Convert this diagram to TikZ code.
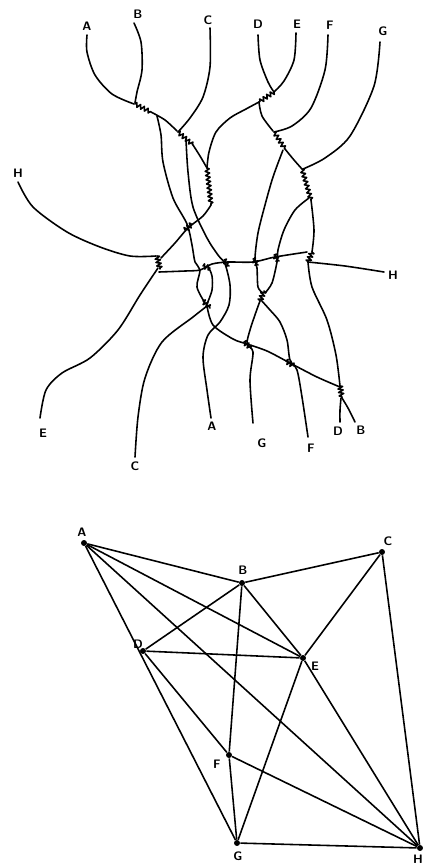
\documentclass[tikz,border=0pt]{standalone}
\usetikzlibrary{decorations.pathmorphing}
\tikzset{
  lab/.style={font=\sffamily\bfseries\fontsize{7}{7}\selectfont, inner sep=0pt},
  strand/.style={line width=0.9pt, line cap=round, line join=round},
  twist/.style={strand, decorate, decoration={zigzag, segment length=2.4pt, amplitude=1.2pt}},
  knot/.style={strand, decorate, decoration={zigzag, segment length=2pt, amplitude=1.4pt}},
  dot/.style={circle, fill, inner sep=0pt, minimum size=3.4pt},
  link/.style={line width=0.9pt}
}
\begin{document}
\begin{tikzpicture}[x=0.02cm, y=-0.02cm]
  \useasboundingbox (0,0) rectangle (425,867);
  \clip (0,0) rectangle (425,867);

  \node[lab] (tA) at (87,26) {A};
  \node[lab] (tB) at (138,14) {B};
  \node[lab] (tC) at (208,20) {C};
  \node[lab] (tD) at (258,24) {D};
  \node[lab] (tE) at (297,24) {E};
  \node[lab] (tF) at (330,25) {F};
  \node[lab] (tG) at (383,31) {G};
  \node[lab] (lH) at (18,173) {H};
  \node[lab] (rH) at (393,275) {H};
  \node[lab] (bE) at (43,433) {E};
  \node[lab] (bC) at (135,466) {C};
  \node[lab] (bA) at (212,426) {A};
  \node[lab] (bG) at (262,443) {G};
  \node[lab] (bF) at (311,448) {F};
  \node[lab] (bD) at (338,431) {D};
  \node[lab] (bB) at (361,430) {B};

  \draw[strand] plot[smooth] coordinates {(87,35) (87,52) (95,75) (112,94) (134,104)};
  \draw[strand] plot[smooth] coordinates {(134,23) (141,42) (142,70) (137,92) (135,103)};
  \draw[twist] (135,104) -- (151,112);
  \draw[strand] plot[smooth] coordinates {(151,112) (165,120) (177,131)};
  \draw[strand] plot[smooth] coordinates {(210,28) (210,67) (203,97) (190,118) (178,132)};
  \draw[twist] (178,132) -- (193,145);
  \draw[strand] plot[smooth] coordinates {(193,145) (200,156) (207,168)};
  \draw[twist] (207,168) -- (211,205);

  \draw[strand] plot[smooth] coordinates {(157,116) (161,135) (163,162) (173,198) (187,224) (192,245) (195,262) (200,270) (197,287) (205,303)};
  \draw[strand] plot[smooth] coordinates {(186,140) (188,172) (193,207) (207,238) (218,255) (225,264) (230,285) (229,305) (220,322) (208,335) (203,357) (207,390) (211,418)};
  \draw[strand] plot[smooth] coordinates {(208,266) (212,276) (212,290) (207,304)};

  \draw[strand] plot[smooth] coordinates {(296,33) (294,60) (284,81) (274,92)};
  \draw[strand] plot[smooth] coordinates {(258,35) (260,60) (268,82) (274,92)};
  \draw[twist] (274,92) -- (259,102);
  \draw[strand] plot[smooth] coordinates {(259,102) (246,109) (230,118) (216,132) (209,152) (207,168)};
  \draw[strand] plot[smooth] coordinates {(259,102) (262,116) (273,131)};
  \draw[strand] plot[smooth] coordinates {(328,35) (325,70) (311,108) (292,126) (274,132)};
  \draw[twist] (274,132) -- (285,149);
  \draw[strand] plot[smooth] coordinates {(285,149) (294,160) (302,169)};
  \draw[strand] plot[smooth] coordinates {(380,42) (374,86) (350,136) (325,158) (303,169)};
  \draw[twist] (302,169) -- (311,200);

  \draw[strand] plot[smooth] coordinates {(283,150) (273,177) (265,205) (258,233) (255,258) (257,268) (258,287) (263,293)};
  \draw[knot] (264,291) -- (260,301);
  \draw[strand] plot[smooth] coordinates {(260,301) (256,312) (250,330) (247,344) (253,352) (250,380) (253,423)};
  \draw[strand] plot[smooth] coordinates {(309,198) (295,210) (284,230) (278,250) (277,262) (272,283) (265,293)};
  \draw[strand] plot[smooth] coordinates {(261,300) (270,310) (280,322) (287,340) (290,360) (297,370) (302,397) (308,437)};
  \draw[strand] plot[smooth] coordinates {(311,200) (314,230) (312,252)};
  \draw[knot] (312,252) -- (308,262);
  \draw[strand] plot[smooth] coordinates {(308,262) (312,287) (327,320) (336,355) (340,386)};
  \draw[knot] (340,386) -- (342,398);
  \draw[strand] plot[smooth] coordinates {(341,398) (340,410) (340,422)};
  \draw[strand] plot[smooth] coordinates {(342,398) (348,408) (355,422)};

  \draw[strand] plot[smooth] coordinates {(18,182) (33,207) (67,232) (100,247) (130,256) (156,256)};
  \draw[strand] plot[smooth] coordinates {(211,205) (203,216) (188,228) (175,243) (161,258)};
  \draw[knot] (185,230) -- (192,224);
  \draw[knot] (157,256) -- (160,269);
  \draw[strand] plot[smooth] coordinates {(158,268) (140,295) (118,330) (90,358) (62,373) (46,390) (40,418)};

  \draw[strand] plot[smooth] coordinates {(159,272) (185,271) (200,270) (212,264) (228,262) (253,262) (275,257) (307,252)};
  \draw[strand] plot[smooth] coordinates {(308,262) (345,266) (384,272)};
  \draw[knot] (203,266) -- (210,268);
  \draw[knot] (224,260) -- (229,266);
  \draw[knot] (253,259) -- (258,265);
  \draw[knot] (274,255) -- (279,261);

  \draw[strand] plot[smooth] coordinates {(207,306) (213,325) (233,339) (247,344) (267,351) (290,363) (317,377) (340,387)};
  \draw[knot] (244,342) -- (251,348);
  \draw[knot] (286,361) -- (294,366);
  \draw[knot] (203,301) -- (210,308);
  \draw[strand] plot[smooth] coordinates {(207,306) (193,317) (162,342) (145,378) (138,417) (135,457)};

  \node[dot] (A) at (84,543) {};
  \node[dot] (B) at (242,583) {};
  \node[dot] (C) at (382,552) {};
  \node[dot] (D) at (143,651) {};
  \node[dot] (E) at (303,658) {};
  \node[dot] (F) at (229,755) {};
  \node[dot] (G) at (237,843) {};
  \node[dot] (H) at (420,848) {};
  \node[lab] at (82,532) {A};
  \node[lab] at (243,570) {B};
  \node[lab] at (388,541) {C};
  \node[lab] at (138,644) {D};
  \node[lab] at (315,666) {E};
  \node[lab] at (217,764) {F};
  \node[lab] at (238,856) {G};
  \node[lab] at (418,859) {H};

  \foreach \p/\q in {A/B, A/E, A/G, A/H, B/C, B/D, B/E, B/F, C/E, C/H, D/E, D/F, E/G, E/H, F/G, F/H, G/H}
  \draw[link] (\p) -- (\q);
\end{tikzpicture}
\end{document}
